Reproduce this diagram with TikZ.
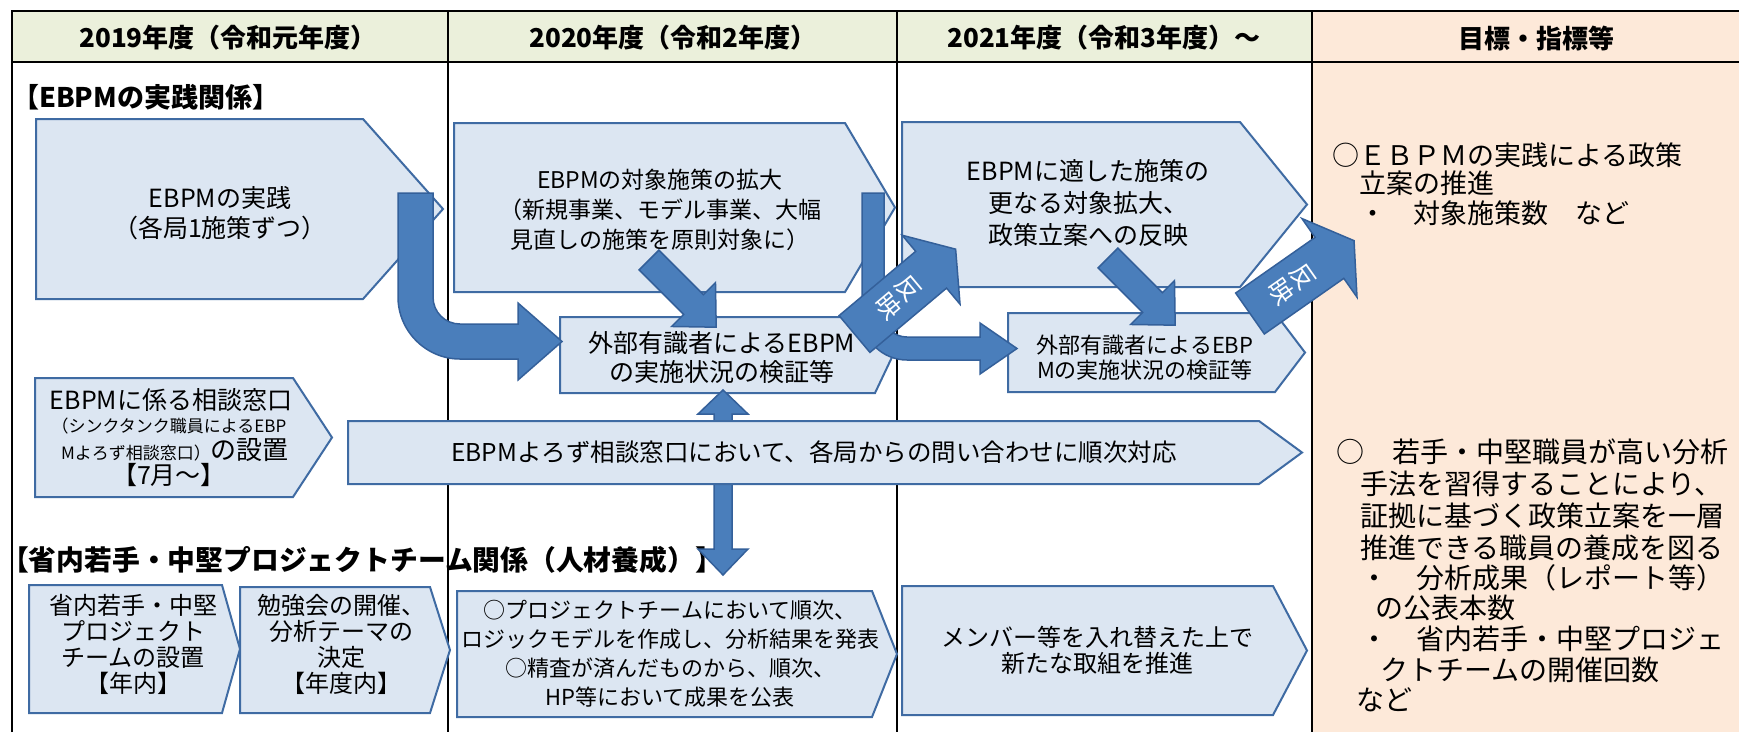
\documentclass[tikz,border=0pt]{standalone}
\usepackage{fontspec}
\setmainfont{Noto Sans CJK JP}
\definecolor{hdr}{HTML}{EBF0DB}
\definecolor{peach}{HTML}{FDE9D9}
\definecolor{bfill}{HTML}{DCE6F2}
\definecolor{bline}{HTML}{3F6BA3}
\definecolor{afill}{HTML}{4A7EBB}
\definecolor{aline}{HTML}{34609A}
\newcommand\mychev[5]{\draw[box] (#1,#2) -- (#3,#2) -- (#4,{(#2+#5)/2}) -- (#3,#5) -- (#1,#5) -- cycle;}
\newcommand\fs[2]{\fontsize{#1}{#2}\selectfont}
\begin{document}
\begin{tikzpicture}[x=1pt,y=-1pt,
  box/.style={draw=bline,fill=bfill,line width=2pt},
  barrow/.style={draw=aline,fill=afill,line width=1.5pt,line join=miter},
  gridln/.style={draw=black,line width=2pt},
  txt/.style={inner sep=0pt,align=center,text=black},
  hd/.style={txt,font=\fs{26}{30}\bfseries},
  sec/.style={txt,font=\fs{27}{30}\bfseries},
  goal/.style={inner sep=0pt,anchor=west,text=black},
  refl/.style={inner sep=0pt,align=center,text=white,font=\fs{25}{27}}]
\useasboundingbox (0,0) rectangle (1739,732);
\fill[white] (0,0) rectangle (1739,732);
% backgrounds
\fill[hdr] (12,11) rectangle (1312,62);
\fill[peach] (1312,11) rectangle (1739,732);
% grid
\draw[gridln] (12,732) -- (12,11) -- (1739,11);
\draw[gridln] (12,62) -- (1739,62);
\draw[gridln] (448,11) -- (448,732);
\draw[gridln] (897,11) -- (897,732);
\draw[gridln] (1312,11) -- (1312,732);
% headers
\node[hd] (h1) at (228,38) {2019年度（令和元年度）};
\node[hd] (h2) at (673,38) {2020年度（令和2年度）};
\node[hd] (h3) at (1104,38) {2021年度（令和3年度）～};
\node[hd] (h4) at (1536,38) {目標・指標等};
% section labels
\node[sec,anchor=west] (s1) at (12,97) {【EBPMの実践関係】};
\node[sec,font=\fs{27.8}{30}\bfseries] (s2) at (362,560) {【省内若手・中堅プロジェクトチーム関係（人材養成）】};
% boxes
\mychev{36}{119}{363}{443}{299}
\node[txt,font=\fs{25}{30}] (A) at (220,213) {EBPMの実践\\（各局1施策ずつ）};
\mychev{454}{123}{845}{895}{292}
\node[txt,font=\fs{23}{30}] (B) at (660,210) {EBPMの対象施策の拡大\\（新規事業、モデル事業、大幅\\見直しの施策を原則対象に）};
\mychev{902}{122}{1240}{1307}{287}
\node[txt,font=\fs{25}{32}] (C) at (1088,203) {EBPMに適した施策の\\更なる対象拡大、\\政策立案への反映};
\mychev{560}{317}{875}{893}{393}
\node[txt,font=\fs{25}{29}] (D) at (722,357.5) {外部有識者によるEBPM\\の実施状況の検証等};
\mychev{1008}{313}{1275}{1305}{392}
\node[txt,font=\fs{22}{25}] (E) at (1145,357.5) {外部有識者によるEBP\\Mの実施状況の検証等};
\mychev{35}{378}{293}{332}{497}
\node[txt,font=\fs{25}{28}] (f1) at (171,400) {EBPMに係る相談窓口};
\node[txt,font=\fs{17}{20}] (f2) at (169,426) {（シンクタンク職員によるEBP};
\node[txt] (f3) at (175,450) {{\fs{17}{20}Mよろず相談窓口）}{\fs{26}{28}の設置}};
\node[txt,font=\fs{25}{28}] (f4) at (169,475) {【7月～】};
\mychev{29}{585}{222}{240}{713}
\node[txt,font=\fs{24}{26}] (H) at (133,644) {省内若手・中堅\\プロジェクト\\チームの設置\\【年内】};
\mychev{240}{587}{430}{450}{713}
\node[txt,font=\fs{24}{26}] (I) at (341,644) {勉強会の開催、\\分析テーマの\\決定\\【年度内】};
\mychev{457}{591}{872}{897}{717}
\node[txt,font=\fs{22}{29}] (J) at (670,653.5) {○プロジェクトチームにおいて順次、\\ロジックモデルを作成し、分析結果を発表\\○精査が済んだものから、順次、\\HP等において成果を公表};
\mychev{902}{586}{1273}{1307}{715}
\node[txt,font=\fs{24}{26}] (K) at (1097,650) {メンバー等を入れ替えた上で\\新たな取組を推進};
% double vertical arrow (under G)
\draw[barrow] (723,390) -- (748,414) -- (732,414) -- (732,549) -- (748,549) -- (723,575) -- (698,549) -- (714,549) -- (714,414) -- (698,414) -- cycle;
\mychev{348}{421}{1259}{1302}{484}
\node[txt,font=\fs{24.5}{28}] (G) at (814,452) {EBPMよろず相談窓口において、各局からの問い合わせに順次対応};
% curved arrow A -> D
\draw[barrow] (398,193) -- (433,193) -- (433,297) .. controls (433,312) and (445,324) .. (460,324) -- (518,324) -- (518,303) -- (562,341.5) -- (518,380) -- (518,359) -- (460,359) .. controls (426,359) and (398,331) .. (398,297) -- cycle;
% curved arrow B -> E
\draw[barrow] (862,193) -- (884,193) -- (884,315) .. controls (884,327.7) and (894.3,337) .. (907,337) -- (980,337) -- (980,323) -- (1017,348.5) -- (980,374) -- (980,360) -- (907,360) .. controls (882.1,360) and (862,339.9) .. (862,315) -- cycle;
% diagonal arrows
\begin{scope}[shift={(649,260)},rotate=-45]
\draw[barrow] (0,-14) -- (63,-14) -- (63,-31) -- (95,0) -- (63,31) -- (63,14) -- (0,14) -- cycle;
\end{scope}
\begin{scope}[shift={(1108,258)},rotate=-45]
\draw[barrow] (0,-14) -- (63,-14) -- (63,-31) -- (95,0) -- (63,31) -- (63,14) -- (0,14) -- cycle;
\end{scope}
% reflect arrows
\begin{scope}[shift={(854.5,334)},rotate=40]
\draw[barrow] (0,-24) -- (100,-24) -- (100,-45) -- (132,0) -- (100,45) -- (100,24) -- (0,24) -- cycle;
\node[refl,rotate=-50] (r1) at (57,0) {反\\映};
\end{scope}
\begin{scope}[shift={(1250,313.5)},rotate=35]
\draw[barrow] (0,-25) -- (97,-25) -- (97,-48) -- (127,0) -- (97,48) -- (97,25) -- (0,25) -- cycle;
\node[refl,rotate=-55] (r2) at (51,0) {反\\映};
\end{scope}
% goals column
\begin{scope}[font=\fs{27}{30}]
\node[goal] (g1) at (1332,155) {○ＥＢＰＭの実践による政策};
\node[goal] (g2) at (1359,183) {立案の推進};
\node[goal] (g3) at (1359,213) {・　対象施策数　など};
\end{scope}
\begin{scope}[font=\fs{28}{30}]
\node[goal] (g4) at (1336,452) {○　若手・中堅職員が高い分析};
\node[goal] (g5) at (1360,484) {手法を習得することにより、};
\node[goal] (g6) at (1360,516) {証拠に基づく政策立案を一層};
\node[goal] (g7) at (1360,548) {推進できる職員の養成を図る};
\node[goal] (g8) at (1360,578) {・　分析成果（レポート等）};
\node[goal] (g9) at (1375,608) {の公表本数};
\node[goal] (g10) at (1360,639) {・　省内若手・中堅プロジェ};
\node[goal] (g11) at (1380,670) {クトチームの開催回数};
\node[goal] (g12) at (1356,700) {など};
\end{scope}
\end{tikzpicture}
\end{document}
